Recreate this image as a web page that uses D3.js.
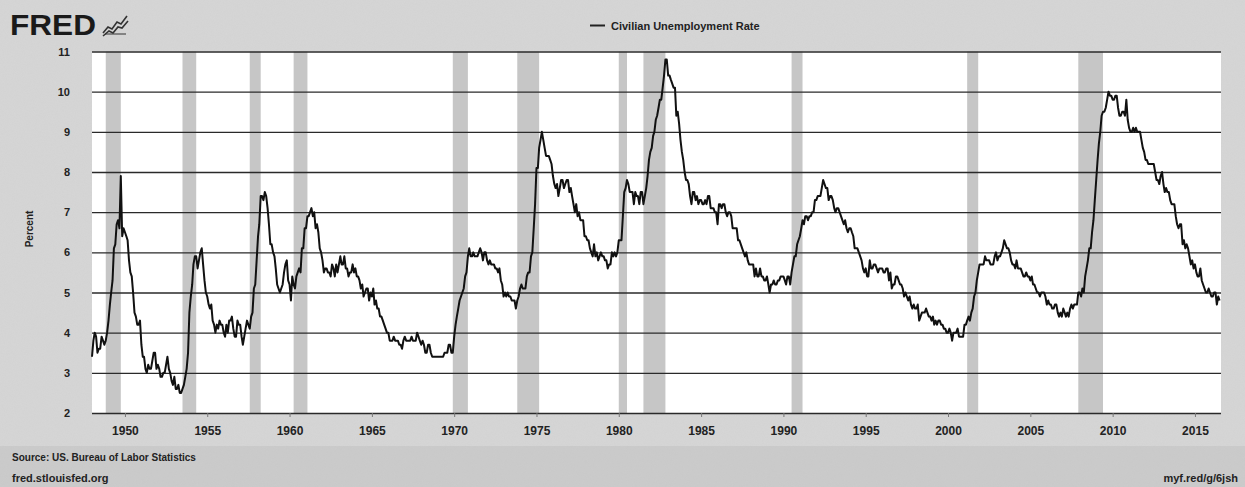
<!DOCTYPE html>
<html><head><meta charset="utf-8">
<script src="https://cdn.jsdelivr.net/npm/d3@7"></script>
<style>body{margin:0;background:#d5d5d5;overflow:hidden}</style>
</head><body>
<svg id="chart" width="1245" height="487"></svg>
<script>
// ---- data ----
const startYear = 1948; // first month: January 1948
const unrate = [
 3.4,3.8,4.0,3.9,3.5,3.6,3.6,3.9,3.8,3.7,3.8,4.0, // 1948
 4.3,4.7,5.0,5.3,6.1,6.2,6.7,6.8,6.6,7.9,6.4,6.6, // 1949
 6.5,6.4,6.3,5.8,5.5,5.4,5.0,4.5,4.4,4.2,4.2,4.3, // 1950
 3.7,3.4,3.4,3.1,3.0,3.2,3.1,3.1,3.3,3.5,3.5,3.1, // 1951
 3.2,3.1,2.9,2.9,3.0,3.0,3.2,3.4,3.1,3.0,2.8,2.7, // 1952
 2.9,2.6,2.6,2.7,2.5,2.5,2.6,2.7,2.9,3.1,3.5,4.5, // 1953
 4.9,5.2,5.7,5.9,5.9,5.6,5.8,6.0,6.1,5.7,5.3,5.0, // 1954
 4.9,4.7,4.6,4.7,4.3,4.2,4.0,4.2,4.1,4.3,4.2,4.2, // 1955
 4.0,3.9,4.2,4.0,4.3,4.3,4.4,4.1,3.9,3.9,4.3,4.2, // 1956
 4.2,3.9,3.7,3.9,4.1,4.3,4.2,4.1,4.4,4.5,5.1,5.2, // 1957
 5.8,6.4,6.7,7.4,7.4,7.3,7.5,7.4,7.1,6.7,6.2,6.2, // 1958
 6.0,5.9,5.6,5.2,5.1,5.0,5.1,5.2,5.5,5.7,5.8,5.3, // 1959
 5.2,4.8,5.4,5.2,5.1,5.4,5.5,5.6,5.5,6.1,6.1,6.6, // 1960
 6.6,6.9,6.9,7.0,7.1,6.9,7.0,6.6,6.7,6.5,6.1,6.0, // 1961
 5.8,5.5,5.6,5.6,5.5,5.5,5.4,5.7,5.6,5.4,5.7,5.5, // 1962
 5.7,5.9,5.7,5.7,5.9,5.6,5.6,5.4,5.5,5.5,5.7,5.5, // 1963
 5.6,5.4,5.4,5.3,5.1,5.2,4.9,5.0,5.1,5.1,4.8,5.0, // 1964
 4.9,5.1,4.7,4.8,4.6,4.6,4.4,4.4,4.3,4.2,4.1,4.0, // 1965
 4.0,3.8,3.8,3.8,3.9,3.8,3.8,3.8,3.7,3.7,3.6,3.8, // 1966
 3.9,3.8,3.8,3.8,3.8,3.9,3.8,3.8,3.8,4.0,3.9,3.8, // 1967
 3.7,3.8,3.7,3.5,3.5,3.7,3.7,3.5,3.4,3.4,3.4,3.4, // 1968
 3.4,3.4,3.4,3.4,3.4,3.5,3.5,3.5,3.7,3.7,3.5,3.5, // 1969
 3.9,4.2,4.4,4.6,4.8,4.9,5.0,5.1,5.4,5.5,5.9,6.1, // 1970
 5.9,5.9,6.0,5.9,5.9,5.9,6.0,6.1,6.0,5.8,6.0,6.0, // 1971
 5.8,5.7,5.8,5.7,5.7,5.7,5.6,5.6,5.5,5.6,5.3,5.2, // 1972
 4.9,5.0,4.9,5.0,4.9,4.9,4.8,4.8,4.8,4.6,4.8,4.9, // 1973
 5.1,5.2,5.1,5.1,5.1,5.4,5.5,5.5,5.9,6.0,6.6,7.2, // 1974
 8.1,8.1,8.6,8.8,9.0,8.8,8.6,8.4,8.4,8.4,8.3,8.2, // 1975
 7.9,7.7,7.6,7.7,7.4,7.6,7.8,7.8,7.6,7.7,7.8,7.8, // 1976
 7.5,7.6,7.4,7.2,7.0,7.2,6.9,7.0,6.8,6.8,6.8,6.4, // 1977
 6.4,6.3,6.3,6.1,6.0,5.9,6.2,5.9,6.0,5.8,5.9,6.0, // 1978
 5.9,5.9,5.8,5.8,5.6,5.7,5.7,6.0,5.9,6.0,5.9,6.0, // 1979
 6.3,6.3,6.3,6.9,7.5,7.6,7.8,7.7,7.5,7.5,7.5,7.2, // 1980
 7.5,7.4,7.4,7.2,7.5,7.5,7.2,7.4,7.6,7.9,8.3,8.5, // 1981
 8.6,8.9,9.0,9.3,9.4,9.6,9.8,9.8,10.1,10.4,10.8,10.8, // 1982
 10.4,10.4,10.3,10.2,10.1,10.1,9.4,9.5,9.2,8.8,8.5,8.3, // 1983
 8.0,7.8,7.8,7.7,7.4,7.2,7.5,7.5,7.3,7.4,7.2,7.3, // 1984
 7.3,7.2,7.2,7.3,7.2,7.4,7.4,7.1,7.1,7.1,7.0,7.0, // 1985
 6.7,7.2,7.2,7.1,7.2,7.2,7.0,6.9,7.0,7.0,6.9,6.6, // 1986
 6.6,6.6,6.6,6.3,6.3,6.2,6.1,6.0,5.9,6.0,5.8,5.7, // 1987
 5.7,5.7,5.7,5.4,5.6,5.4,5.4,5.6,5.4,5.4,5.3,5.3, // 1988
 5.4,5.2,5.0,5.2,5.2,5.3,5.2,5.2,5.3,5.3,5.4,5.4, // 1989
 5.4,5.3,5.2,5.4,5.4,5.2,5.5,5.7,5.9,5.9,6.2,6.3, // 1990
 6.4,6.6,6.8,6.7,6.9,6.9,6.8,6.9,6.9,7.0,7.0,7.3, // 1991
 7.3,7.4,7.4,7.4,7.6,7.8,7.7,7.6,7.6,7.3,7.4,7.4, // 1992
 7.3,7.1,7.0,7.1,7.1,7.0,6.9,6.8,6.7,6.8,6.6,6.5, // 1993
 6.6,6.6,6.5,6.4,6.1,6.1,6.1,6.0,5.9,5.8,5.6,5.5, // 1994
 5.6,5.4,5.4,5.8,5.6,5.6,5.7,5.7,5.6,5.5,5.6,5.6, // 1995
 5.6,5.5,5.5,5.6,5.6,5.3,5.5,5.1,5.2,5.2,5.4,5.4, // 1996
 5.3,5.2,5.2,5.1,4.9,5.0,4.9,4.8,4.9,4.7,4.6,4.7, // 1997
 4.6,4.6,4.7,4.3,4.4,4.5,4.5,4.5,4.6,4.5,4.4,4.4, // 1998
 4.3,4.4,4.2,4.3,4.2,4.3,4.3,4.2,4.2,4.1,4.1,4.0, // 1999
 4.0,4.1,4.0,3.8,4.0,4.0,4.0,4.1,3.9,3.9,3.9,3.9, // 2000
 4.2,4.2,4.3,4.4,4.3,4.5,4.6,4.9,5.0,5.3,5.5,5.7, // 2001
 5.7,5.7,5.7,5.9,5.8,5.8,5.8,5.7,5.7,5.7,5.9,6.0, // 2002
 5.8,5.9,5.9,6.0,6.1,6.3,6.2,6.1,6.1,6.0,5.8,5.7, // 2003
 5.7,5.6,5.8,5.6,5.6,5.6,5.5,5.4,5.4,5.5,5.4,5.4, // 2004
 5.3,5.4,5.2,5.2,5.1,5.0,5.0,4.9,5.0,5.0,5.0,4.9, // 2005
 4.7,4.8,4.7,4.7,4.6,4.6,4.7,4.7,4.5,4.4,4.5,4.4, // 2006
 4.6,4.5,4.4,4.5,4.4,4.6,4.7,4.6,4.7,4.7,4.7,5.0, // 2007
 5.0,4.9,5.1,5.0,5.4,5.6,5.8,6.1,6.1,6.5,6.8,7.3, // 2008
 7.8,8.3,8.7,9.0,9.4,9.5,9.5,9.6,9.8,10.0,9.9,9.9, // 2009
 9.8,9.8,9.9,9.9,9.6,9.4,9.4,9.5,9.5,9.4,9.8,9.3, // 2010
 9.1,9.0,9.0,9.1,9.0,9.1,9.0,9.0,9.0,8.8,8.6,8.5, // 2011
 8.3,8.3,8.2,8.2,8.2,8.2,8.2,8.0,7.8,7.8,7.7,7.9, // 2012
 8.0,7.7,7.5,7.6,7.5,7.5,7.3,7.2,7.2,7.2,6.9,6.7, // 2013
 6.6,6.7,6.7,6.2,6.3,6.1,6.2,6.1,5.9,5.7,5.8,5.6, // 2014
 5.7,5.5,5.4,5.4,5.6,5.3,5.2,5.1,5.0,5.0,5.1,5.0, // 2015
 4.9,4.9,5.0,5.0,4.7,4.9,4.8                      // 2016
];
const recessions = [
 ["1948-11","1949-10"],["1953-07","1954-05"],["1957-08","1958-04"],["1960-04","1961-02"],
 ["1969-12","1970-11"],["1973-11","1975-03"],["1980-01","1980-07"],["1981-07","1982-11"],
 ["1990-07","1991-03"],["2001-03","2001-11"],["2007-12","2009-06"]
];
const yTicks = [2,3,4,5,6,7,8,9,10,11];
const xTickYears = [1950,1955,1960,1965,1970,1975,1980,1985,1990,1995,2000,2005,2010,2015];
const seriesName = "Civilian Unemployment Rate";
const yAxisTitle = "Percent";
const sourceLine = "Source: US. Bureau of Labor Statistics";
const siteLine = "fred.stlouisfed.org";
const shortLink = "myf.red/g/6jsh";

// ---- drawing ----
const W = 1245, H = 487;
const svg = d3.select("#chart");
const parse = d3.timeParse("%Y-%m");
const points = unrate.map((v, i) => ({date: new Date(startYear + Math.floor(i / 12), i % 12, 1), value: v}));

const x = d3.scaleTime().domain([new Date(1948, 0, 1), new Date(2016, 7, 1)]).range([92, 1221]);
const y = d3.scaleLinear().domain([2, 11]).range([413, 51.5]);

const defs = svg.append("defs");
const f = defs.append("filter").attr("id", "grain").attr("x", 0).attr("y", 0).attr("width", 1).attr("height", 1);
f.append("feTurbulence").attr("type", "fractalNoise").attr("baseFrequency", 0.9).attr("numOctaves", 2).attr("seed", 3).attr("result", "n");
f.append("feColorMatrix").attr("in", "n").attr("type", "matrix")
 .attr("values", "0 0 0 0 0.5  0 0 0 0 0.5  0 0 0 0 0.5  0 0 0 0.22 0");

// background
svg.append("rect").attr("width", W).attr("height", H).attr("fill", "#d6d6d6");
svg.append("rect").attr("y", 446).attr("width", W).attr("height", H - 446).attr("fill", "#cbcbcb");
svg.append("rect").attr("width", W).attr("height", H).attr("fill", "#888").attr("filter", "url(#grain)").attr("opacity", 0.55);

// plot area
svg.append("rect").attr("x", x.range()[0]).attr("y", y(11)).attr("width", x.range()[1] - x.range()[0])
 .attr("height", y(2) - y(11)).attr("fill", "#ffffff");

// recession shading
svg.append("g").selectAll("rect").data(recessions).join("rect")
 .attr("x", d => x(parse(d[0])))
 .attr("y", y(11))
 .attr("width", d => x(parse(d[1])) - x(parse(d[0])))
 .attr("height", y(2) - y(11))
 .attr("fill", "#c6c6c6");

// horizontal grid
const yAxis = d3.axisLeft(y).tickValues(yTicks).tickSize(-(x.range()[1] - x.range()[0])).tickPadding(22).tickFormat(d3.format("d"));
const gy = svg.append("g").attr("transform", `translate(${x.range()[0]},0)`).call(yAxis);
gy.select(".domain").remove();
gy.selectAll(".tick line").attr("stroke", "#2a2a2a").attr("stroke-width", 1.4);
gy.selectAll(".tick text").attr("font-family", "Liberation Sans, Arial, sans-serif").attr("font-size", 11)
 .attr("font-weight", "bold").attr("fill", "#222");

// x axis
const xAxis = d3.axisBottom(x).tickValues(xTickYears.map(yr => new Date(yr, 0, 1))).tickSize(4).tickPadding(9).tickFormat(d3.timeFormat("%Y"));
const gx = svg.append("g").attr("transform", `translate(0,${y(2)})`).call(xAxis);
gx.select(".domain").remove();
gx.selectAll(".tick line").attr("stroke", "#777").attr("stroke-width", 1);
gx.selectAll(".tick text").attr("font-family", "Liberation Sans, Arial, sans-serif").attr("font-size", 12)
 .attr("font-weight", "bold").attr("fill", "#222");

// series line
svg.append("path").datum(points)
 .attr("d", d3.line().x(d => x(d.date)).y(d => y(d.value)))
 .attr("fill", "none").attr("stroke", "#111").attr("stroke-width", 2).attr("stroke-linejoin", "round");

// y axis title
svg.append("text").attr("transform", "translate(33,229) rotate(-90)").attr("text-anchor", "middle")
 .attr("font-family", "Liberation Sans, Arial, sans-serif").attr("font-size", 10).attr("font-weight", "bold")
 .attr("fill", "#222").text(yAxisTitle);

// legend
svg.append("line").attr("x1", 590).attr("x2", 605).attr("y1", 25.5).attr("y2", 25.5).attr("stroke", "#222").attr("stroke-width", 2);
svg.append("text").attr("x", 611).attr("y", 29.5).attr("font-family", "Liberation Sans, Arial, sans-serif")
 .attr("font-size", 11).attr("font-weight", "bold").attr("fill", "#222").text(seriesName);

// FRED logo
svg.append("text").attr("x", 10).attr("y", 35).attr("font-family", "Liberation Sans, Arial, sans-serif")
 .attr("font-size", 29).attr("font-weight", "bold").attr("fill", "#1a1a1a")
 .attr("textLength", 86).attr("lengthAdjust", "spacingAndGlyphs").text("FRED");
const logo = svg.append("g").attr("transform", "translate(102,14)").attr("fill", "none").attr("stroke", "#333").attr("stroke-width", 1.6);
logo.append("path").attr("d", "M1,19 L6,13 L10,15 L15,8 L19,10 L25,2");
logo.append("path").attr("d", "M1,22 L7,17 L11,19 L16,13 L20,14 L26,7");
logo.append("path").attr("d", "M3,20 L24,20").attr("stroke-width", 1);

// footer
const foot = svg.append("g").attr("font-family", "Liberation Sans, Arial, sans-serif").attr("font-size", 10)
 .attr("font-weight", "bold").attr("fill", "#222");
foot.append("text").attr("x", 12).attr("y", 461).text(sourceLine);
foot.append("text").attr("x", 12).attr("y", 482).attr("font-size", 11).text(siteLine);
foot.append("text").attr("x", 1238).attr("y", 482).attr("text-anchor", "end").attr("font-size", 11).text(shortLink);
</script>
</body></html>
